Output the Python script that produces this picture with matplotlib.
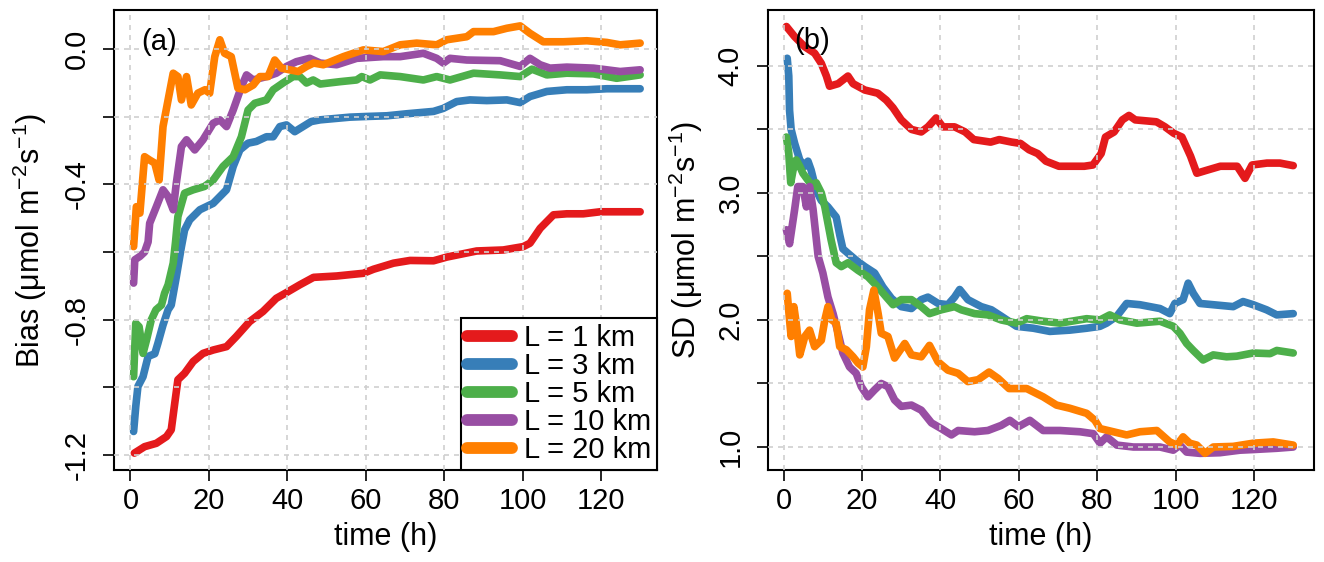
import matplotlib
matplotlib.use("Agg")
import matplotlib.pyplot as plt

plt.rcParams['font.family'] = ['Liberation Sans', 'DejaVu Sans']
plt.rcParams['mathtext.fontset'] = 'custom'
plt.rcParams['mathtext.rm'] = 'Liberation Sans'
plt.rcParams['mathtext.default'] = 'regular'
plt.rcParams['axes.unicode_minus'] = False

labels = ["L = 1 km", "L = 3 km", "L = 5 km", "L = 10 km", "L = 20 km"]
colors = ["#E41A1C", "#377EB8", "#4DAF4A", "#984EA3", "#FF7F00"]

# ---- panel (a): bias ----
t_bias_1 = [1, 3.6, 6.6, 9.2, 10.4, 11.3, 12.1, 13.8, 16, 18.5, 21.1, 24.5, 27, 30.4, 33.8, 37.2,
            39.8, 43.2, 46.7, 52.6, 59.4, 62, 67.1, 71.3, 77.3, 80.7, 88.3, 95.1, 100.2, 101.9,
            104.5, 107.9, 111.3, 115.5, 119.8, 124, 130]
bias_1 = [-1.195, -1.176, -1.166, -1.146, -1.126, -1.047, -0.978, -0.959, -0.924, -0.9, -0.89,
          -0.88, -0.85, -0.806, -0.776, -0.737, -0.72, -0.697, -0.675, -0.671, -0.663, -0.651,
          -0.633, -0.625, -0.626, -0.615, -0.597, -0.594, -0.584, -0.574, -0.53, -0.49, -0.487,
          -0.487, -0.481, -0.481, -0.481]

t_bias_3 = [0.8, 1.35, 1.9, 3.2, 4.5, 6.2, 7, 8.3, 9.6, 10.4, 11.7, 13, 13.8, 15.1, 17.7, 21.1,
            24.5, 26.2, 27.9, 30, 32.1, 34.7, 36.4, 38.1, 39.8, 41.9, 44, 46.1, 48.4, 56, 60.3,
            65.4, 70.5, 77.3, 79.8, 83.2, 86.6, 90.9, 96, 99.4, 101.9, 106.2, 111.3, 116.4,
            121.5, 130]
bias_3 = [-1.131, -1.057, -0.998, -0.969, -0.909, -0.901, -0.87, -0.816, -0.771, -0.757, -0.673,
          -0.584, -0.535, -0.505, -0.475, -0.456, -0.416, -0.347, -0.298, -0.278, -0.273, -0.259,
          -0.259, -0.229, -0.224, -0.244, -0.229, -0.214, -0.209, -0.201, -0.199, -0.197, -0.191,
          -0.184, -0.175, -0.155, -0.15, -0.152, -0.15, -0.158, -0.14, -0.125, -0.12, -0.12,
          -0.117, -0.117]

t_bias_5 = [0.8, 1.35, 2.2, 3.2, 4.1, 5.3, 6.5, 7.9, 8.7, 9.6, 10.9, 11.5, 12.1, 13.8, 16, 18.9,
            21.1, 23.6, 26.2, 28.3, 30, 31.7, 34.7, 36.4, 38.9, 41.5, 43.2, 44.9, 46.6, 48.4,
            53.5, 57.7, 59, 61.1, 63.7, 68.8, 74.7, 78.1, 81.5, 87.5, 94.3, 99.4, 102.4, 106.2,
            111.3, 118.1, 124, 130]
bias_5 = [-0.969, -0.811, -0.821, -0.9, -0.86, -0.801, -0.771, -0.757, -0.722, -0.697, -0.633,
          -0.57, -0.495, -0.426, -0.416, -0.406, -0.387, -0.347, -0.318, -0.259, -0.18, -0.16,
          -0.15, -0.12, -0.1, -0.081, -0.081, -0.1, -0.091, -0.103, -0.096, -0.091, -0.081,
          -0.091, -0.076, -0.081, -0.091, -0.081, -0.091, -0.071, -0.076, -0.081, -0.059,
          -0.076, -0.071, -0.073, -0.086, -0.076]

t_bias_10 = [0.8, 1.1, 2.4, 3.6, 4.5, 4.9, 6.6, 8.3, 9.6, 10.9, 11.7, 13, 14.3, 16.4, 18.5, 21.1,
             22.8, 24.5, 26.2, 28.3, 29.6, 31.3, 33, 34.7, 37.2, 39.8, 42.3, 45.7, 48.4, 52.6,
             57.7, 64.5, 68.8, 74.7, 78.1, 79.8, 81.5, 85.8, 94.3, 99.4, 101.9, 104.5, 107,
             111.3, 118.1, 124.9, 130]
bias_10 = [-0.692, -0.623, -0.613, -0.6, -0.57, -0.515, -0.466, -0.416, -0.436, -0.475, -0.396,
           -0.288, -0.268, -0.298, -0.268, -0.219, -0.209, -0.229, -0.18, -0.111, -0.076, -0.091,
           -0.086, -0.081, -0.071, -0.051, -0.037, -0.027, -0.041, -0.046, -0.027, -0.022,
           -0.022, -0.012, -0.027, -0.041, -0.027, -0.032, -0.034, -0.051, -0.027, -0.046,
           -0.056, -0.053, -0.056, -0.066, -0.061]

t_bias_20 = [0.8, 1.5, 2.4, 3.6, 4.9, 6.2, 7.3, 8.3, 9.6, 10.9, 12.1, 13, 14.3, 15.5, 17.2, 19,
             20.2, 21.5, 22.8, 24, 25.7, 27.4, 29.2, 31.3, 33, 35.1, 36.8, 38.5, 40.6, 42.8,
             44.9, 46.7, 49.2, 54.3, 59.4, 64.5, 68.8, 73, 78.1, 80.7, 85.8, 87.5, 92.6, 96,
             99.4, 101.9, 105.3, 110.4, 116.4, 121.5, 124.9, 130]
bias_20 = [-0.584, -0.466, -0.485, -0.318, -0.328, -0.337, -0.387, -0.229, -0.15, -0.071, -0.081,
           -0.15, -0.081, -0.165, -0.13, -0.12, -0.13, -0.022, 0.028, -0.012, -0.022, -0.115,
           -0.12, -0.106, -0.081, -0.081, -0.032, -0.056, -0.061, -0.066, -0.051, -0.041,
           -0.046, -0.022, -0.002, -0.007, 0.013, 0.018, 0.013, 0.028, 0.037, 0.052, 0.052,
           0.062, 0.069, 0.047, 0.022, 0.022, 0.025, 0.02, 0.013, 0.018]

# ---- panel (b): standard deviation ----
t_sd_1 = [0.7, 2.8, 5.4, 7.9, 9.6, 10.9, 11.7, 13.9, 16.4, 17.7, 20.7, 24, 26.2, 27.9, 30, 32.6,
          35.1, 36.8, 38.9, 40.6, 43.6, 46.3, 48.5, 52.8, 55, 58.2, 60.4, 62.6, 64.8, 66.9, 70.2,
          76.7, 78.9, 81, 82.1, 84.3, 86.4, 88.1, 89.7, 95.1, 97.3, 99.5, 101.6, 102.7, 103.8,
          105.4, 108.1, 111.4, 115.7, 117.7, 119.5, 123.3, 126.6, 130]
sd_1 = [4.31, 4.23, 4.15, 4.10, 4.02, 3.92, 3.84, 3.86, 3.92, 3.86, 3.81, 3.785, 3.73, 3.67,
        3.575, 3.50, 3.48, 3.52, 3.59, 3.52, 3.52, 3.48, 3.42, 3.40, 3.42, 3.40, 3.39, 3.34,
        3.31, 3.25, 3.21, 3.21, 3.22, 3.31, 3.44, 3.48, 3.575, 3.61, 3.575, 3.56, 3.52, 3.47,
        3.44, 3.365, 3.29, 3.155, 3.18, 3.21, 3.21, 3.115, 3.22, 3.235, 3.235, 3.215]

t_sd_3 = [0.9, 1.3, 1.5, 1.9, 2.8, 4.1, 5.4, 6.2, 7, 8.3, 9.6, 11.3, 12.6, 13.4, 14.3, 15.1,
          16.4, 18.5, 20.7, 23.2, 25.3, 27.5, 30, 32.6, 35.1, 36.8, 39.4, 41.9, 43.6, 44.9, 47,
          50.4, 53, 55.5, 59.4, 63.7, 67.9, 73, 77.3, 80.7, 82.4, 85, 87.5, 90.9, 96, 98.5,
          99.8, 101.9, 103.2, 104.5, 106.2, 109.6, 114.7, 117.2, 119.8, 123.2, 125.8, 130]
sd_3 = [4.06, 3.92, 3.65, 3.50, 3.39, 3.26, 3.21, 3.25, 3.18, 3.02, 2.94, 2.89, 2.84, 2.81,
        2.67, 2.56, 2.525, 2.47, 2.42, 2.37, 2.26, 2.17, 2.105, 2.09, 2.16, 2.18, 2.13, 2.12,
        2.18, 2.24, 2.16, 2.105, 2.08, 2.03, 1.95, 1.935, 1.91, 1.92, 1.935, 1.95, 1.975, 2.03,
        2.13, 2.12, 2.09, 2.05, 2.13, 2.16, 2.29, 2.21, 2.13, 2.12, 2.105, 2.145, 2.12, 2.08,
        2.04, 2.05]

t_sd_5 = [0.7, 1.3, 1.8, 2.4, 3.2, 4.1, 4.9, 6.2, 7.5, 8.3, 9.6, 10.5, 11.3, 12.1, 13.4, 14.7,
          16.4, 19, 21.5, 24, 26.2, 27.9, 30, 32.6, 35.1, 37.2, 40.2, 43.6, 45.3, 48.7, 52.1,
          55.5, 59.4, 62, 66.2, 70.5, 77.3, 80.7, 83.2, 85.8, 90.1, 96, 99.4, 101.1, 102.8,
          104.5, 107, 109.6, 113, 115.6, 119.8, 124.1, 125.8, 130]
sd_5 = [3.44, 3.31, 3.08, 3.18, 3.26, 3.21, 3.155, 3.10, 3.05, 3.08, 3.0, 2.89, 2.76, 2.63,
        2.45, 2.42, 2.45, 2.39, 2.34, 2.26, 2.18, 2.12, 2.16, 2.16, 2.105, 2.05, 2.08, 2.105,
        2.08, 2.05, 2.04, 2.0, 1.975, 2.01, 1.99, 1.975, 2.01, 2.0, 2.04, 2.0, 1.975, 1.99,
        1.95, 1.895, 1.815, 1.76, 1.685, 1.725, 1.71, 1.715, 1.74, 1.735, 1.76, 1.74]

t_sd_10 = [0.7, 1.5, 2.8, 3.6, 4.9, 5.8, 6.6, 7.5, 8.8, 10, 11.3, 12.6, 13.9, 15.1, 16.8, 18.5,
           19.8, 21.5, 23.2, 24.9, 26.6, 28.3, 30, 32.6, 35.1, 37.7, 40.2, 42.8, 44.5, 48.7,
           52.1, 55.5, 57.7, 59.9, 62.8, 66.2, 70.5, 75.6, 79, 80.7, 82.4, 85, 89.2, 96, 99.4,
           101.1, 102.8, 106.2, 111.3, 116.4, 119.8, 125.8, 130]
sd_10 = [2.71, 2.60, 2.87, 3.05, 3.05, 2.89, 3.05, 2.87, 2.50, 2.37, 2.18, 2.05, 1.895, 1.74,
         1.63, 1.58, 1.475, 1.395, 1.45, 1.50, 1.475, 1.37, 1.32, 1.33, 1.29, 1.19, 1.145,
         1.095, 1.13, 1.12, 1.13, 1.17, 1.21, 1.16, 1.21, 1.13, 1.13, 1.12, 1.105, 1.03, 1.08,
         1.015, 1.0, 1.0, 0.975, 1.015, 0.96, 0.95, 0.955, 0.975, 0.98, 0.99, 1.0]

t_sd_20 = [0.9, 1.5, 1.9, 2.6, 3.2, 4.1, 5.4, 6.6, 7.9, 9.6, 10.5, 11.3, 12.3, 13.4, 14.3, 16,
           17.7, 19, 20.2, 21.1, 21.9, 23, 24.1, 24.9, 26.6, 28.3, 30.9, 32.6, 35.1, 37.2, 39.4,
           41.9, 44.5, 47, 49.6, 52.4, 54.7, 57.5, 62, 66.2, 69.6, 73, 77.3, 79.4, 80.7, 84.1,
           87.5, 90.9, 95.2, 98.5, 100.3, 101.9, 103.6, 105.4, 107.5, 109.6, 114.7, 119.8,
           124.9, 130]
sd_20 = [2.21, 2.0, 1.87, 2.105, 1.975, 1.725, 1.87, 1.92, 1.79, 1.84, 2.0, 2.105, 2.0, 1.975,
         1.79, 1.765, 1.71, 1.66, 1.63, 1.79, 2.08, 2.235, 2.05, 1.895, 1.87, 1.70, 1.815,
         1.725, 1.71, 1.80, 1.67, 1.605, 1.58, 1.515, 1.53, 1.59, 1.54, 1.46, 1.46, 1.395,
         1.33, 1.305, 1.265, 1.21, 1.145, 1.12, 1.095, 1.12, 1.13, 1.04, 1.015, 1.08, 1.03,
         1.015, 0.95, 1.0, 1.005, 1.03, 1.04, 1.015]

bias_series = [(t_bias_1, bias_1), (t_bias_3, bias_3), (t_bias_5, bias_5),
               (t_bias_10, bias_10), (t_bias_20, bias_20)]
sd_series = [(t_sd_1, sd_1), (t_sd_3, sd_3), (t_sd_5, sd_5),
             (t_sd_10, sd_10), (t_sd_20, sd_20)]

W, H = 1324, 562
fig = plt.figure(figsize=(W / 100, H / 100), dpi=100)
ax1 = fig.add_axes([114 / W, (H - 470) / H, (657 - 114) / W, 460 / H])
ax2 = fig.add_axes([768 / W, (H - 470) / H, (1314 - 768) / W, 460 / H])

FS_TICK = 21
FS_LAB = 22
FS_LEG = 21
grid_kw = dict(color="#cfcfcf", linestyle=(0, (3, 3)), linewidth=1.2)

for ax, series in [(ax1, bias_series), (ax2, sd_series)]:
    for (t, v), c, lab in zip(series, colors, labels):
        ax.plot(t, v, color=c, lw=5.5, label=lab,
                solid_capstyle="round", solid_joinstyle="round")
    ax.set_axisbelow(False)
    ax.grid(True, **grid_kw)
    ax.set_xticks([0, 20, 40, 60, 80, 100, 120])
    ax.tick_params(axis="both", direction="out", length=8, width=1.2, labelsize=FS_TICK)
    ax.tick_params(axis="x", pad=4)
    ax.tick_params(axis="y", pad=19)
    for s in ax.spines.values():
        s.set_linewidth(1.5)
    ax.set_xlabel("time (h)", fontsize=FS_LAB, labelpad=5)

ax1.set_xlim(-4.2, 134.3)
ax1.set_ylim(-1.245, 0.116)
yt1 = [-1.2, -1.0, -0.8, -0.6, -0.4, -0.2, 0.0]
ax1.set_yticks(yt1)
ax1.set_yticklabels(["-1.2", "", "-0.8", "", "-0.4", "", "0.0"])

ax2.set_xlim(-4.0, 135.3)
ax2.set_ylim(0.819, 4.44)
yt2 = [1.0, 1.5, 2.0, 2.5, 3.0, 3.5, 4.0]
ax2.set_yticks(yt2)
ax2.set_yticklabels(["1.0", "", "2.0", "", "3.0", "", "4.0"])

for ax in (ax1, ax2):
    for lbl in ax.get_yticklabels():
        lbl.set_rotation(90)
        lbl.set_ha("center")
        lbl.set_va("center")

ax1.set_ylabel("Bias (\u03bcmol m$^{-2}$s$^{-1}$)", fontsize=FS_LAB, va="center")
ax1.yaxis.set_label_coords((30 - 114) / 543, 0.5)
ax2.set_ylabel("SD (\u03bcmol m$^{-2}$s$^{-1}$)", fontsize=FS_LAB, va="center")
ax2.yaxis.set_label_coords((686 - 768) / 546, 0.5)

ax1.text(0.05, 0.93, "(a)", transform=ax1.transAxes, fontsize=FS_TICK, va="center", ha="left")
ax2.text(0.048, 0.933, "(b)", transform=ax2.transAxes, fontsize=FS_TICK, va="center", ha="left")

leg = ax1.legend(loc="lower right", fontsize=FS_LEG, frameon=True, fancybox=False,
                 borderaxespad=0, handlelength=1.55, handletextpad=0.4, labelspacing=0.0,
                 borderpad=0.2, framealpha=1)
leg.get_frame().set_edgecolor("black")
leg.get_frame().set_linewidth(1.5)
for h in leg.get_lines():
    h.set_linewidth(8.5)
    h.set_solid_capstyle("round")

fig.savefig("out.png", dpi=100)
